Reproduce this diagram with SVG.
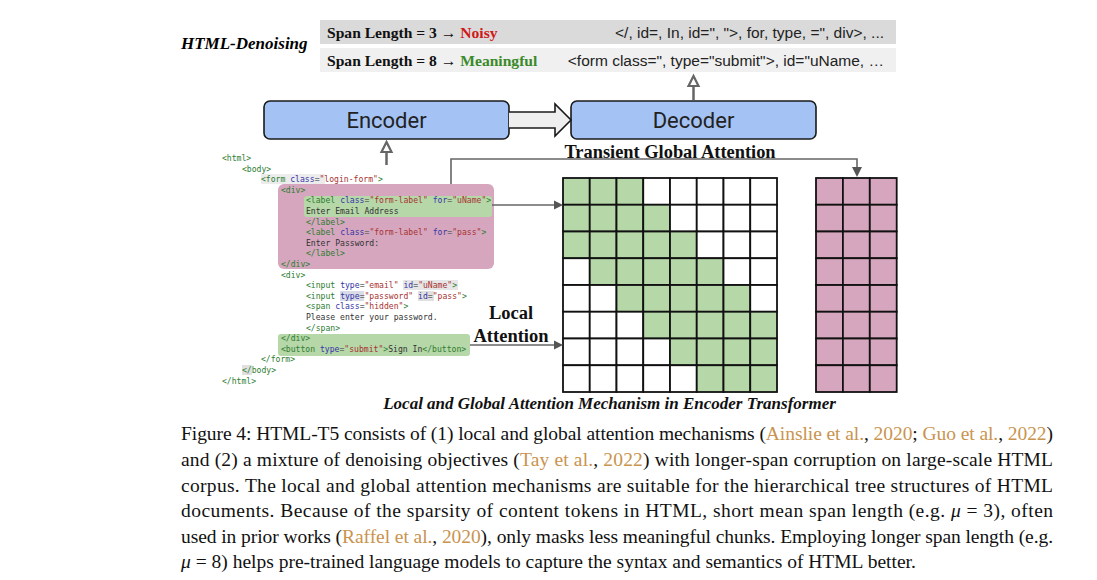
<svg xmlns="http://www.w3.org/2000/svg" width="1097" height="580" viewBox="0 0 1097 580">
<style>
.serifb{font-family:"Liberation Serif","Times New Roman",serif;font-weight:bold}
.code{font-family:"DejaVu Sans Mono","Liberation Mono",monospace;font-size:8.1px}
.t{fill:#2e7d32}.a{fill:#3535a8}.v{fill:#a83232}.p{fill:#333333}.e{fill:#666666}
.cap{font-family:"Liberation Serif","Times New Roman",serif;font-size:19.5px;fill:#111}
.cite{fill:#c9944f}
.g{fill:#b6d7a8;stroke:#111;stroke-width:1.8}
.w{fill:#ffffff;stroke:#111;stroke-width:1.8}
.pk{fill:#d5a6bd;stroke:#111;stroke-width:1.8}
.conn{fill:none;stroke:#666;stroke-width:1.6}
.box{fill:#a4c2f4;stroke:#1a1a1a;stroke-width:1.6}
.boxt{font-family:Roboto,"Open Sans",sans-serif;font-size:22px;fill:#222;text-anchor:middle}
.tok{font-family:"Liberation Sans",Arial,sans-serif;font-size:15.5px;fill:#222;text-anchor:end}
</style>
<rect width="1097" height="580" fill="#ffffff"/>

<g id="denoising">
<text x="181" y="49" class="serifb" font-style="italic" font-size="17">HTML-Denoising</text>
<rect x="320" y="20" width="576" height="24" fill="#dadada"/>
<rect x="320" y="48" width="576" height="24" fill="#f0f0f0"/>
<text x="327" y="37.5" class="serifb" font-size="15.6" fill="#111">Span Length = 3 → <tspan fill="#d01818">Noisy</tspan></text>
<text x="327" y="65.5" class="serifb" font-size="15.6" fill="#111">Span Length = 8 → <tspan fill="#3a8a2a">Meaningful</tspan></text>
<text x="884" y="37.5" class="tok">&lt;/, id=, In, id=", "&gt;, for, type, =", div&gt;, ...</text>
<text x="884" y="65.5" class="tok">&lt;form class=", type="submit"&gt;, id="uName, …</text>
</g>

<g id="encoder">
<rect x="264" y="101" width="245" height="38" rx="6" class="box"/>
<text x="386.5" y="128" class="boxt">Encoder</text>
</g>
<g id="decoder">
<rect x="571" y="101" width="245" height="38" rx="6" class="box"/>
<text x="693.5" y="128" class="boxt">Decoder</text>
</g>

<g id="html-code">
<rect x="278" y="184" width="216" height="85" rx="6" fill="#d5a6bd"/>
<rect x="304" y="196" width="188" height="21" rx="3" fill="#b6d7a8"/>
<rect x="278" y="334" width="192" height="22" rx="3" fill="#b6d7a8"/>
<rect x="261" y="174" width="64" height="10" fill="#ececec"/>
<rect x="403" y="280" width="55" height="10" fill="#e6e6e6"/>
<rect x="340" y="291" width="24" height="10" fill="#d9dce6"/>
<rect x="418" y="291" width="16" height="10" fill="#e0e0e0"/>
<rect x="242" y="365" width="10" height="10" fill="#e0e0e0"/>
<g class="code">
<text x="222" y="161"><tspan class="t">&lt;html&gt;</tspan></text>
<text x="242" y="171.6"><tspan class="t">&lt;body&gt;</tspan></text>
<text x="261" y="182.2"><tspan class="t">&lt;form </tspan><tspan class="a">class</tspan><tspan class="e">=</tspan><tspan class="v">"login-form"</tspan><tspan class="t">&gt;</tspan></text>
<text x="281" y="192.8"><tspan class="t">&lt;div&gt;</tspan></text>
<text x="306" y="203.4"><tspan class="t">&lt;label </tspan><tspan class="a">class</tspan><tspan class="e">=</tspan><tspan class="v">"form-label"</tspan><tspan class="a"> for</tspan><tspan class="e">=</tspan><tspan class="v">"uName"</tspan><tspan class="t">&gt;</tspan></text>
<text x="306" y="214" class="p">Enter Email Address</text>
<text x="306" y="224.6"><tspan class="t">&lt;/label&gt;</tspan></text>
<text x="306" y="235.2"><tspan class="t">&lt;label </tspan><tspan class="a">class</tspan><tspan class="e">=</tspan><tspan class="v">"form-label"</tspan><tspan class="a"> for</tspan><tspan class="e">=</tspan><tspan class="v">"pass"</tspan><tspan class="t">&gt;</tspan></text>
<text x="306" y="245.8" class="p">Enter Password:</text>
<text x="306" y="256.4"><tspan class="t">&lt;/label&gt;</tspan></text>
<text x="281" y="267"><tspan class="t">&lt;/div&gt;</tspan></text>
<text x="281" y="277.6"><tspan class="t">&lt;div&gt;</tspan></text>
<text x="306" y="288.2"><tspan class="t">&lt;input </tspan><tspan class="a">type</tspan><tspan class="e">=</tspan><tspan class="v">"email"</tspan><tspan class="a"> id</tspan><tspan class="e">=</tspan><tspan class="v">"uName"</tspan><tspan class="t">&gt;</tspan></text>
<text x="306" y="298.8"><tspan class="t">&lt;input </tspan><tspan class="a">type</tspan><tspan class="e">=</tspan><tspan class="v">"password"</tspan><tspan class="a"> id</tspan><tspan class="e">=</tspan><tspan class="v">"pass"</tspan><tspan class="t">&gt;</tspan></text>
<text x="306" y="309.4"><tspan class="t">&lt;span </tspan><tspan class="a">class</tspan><tspan class="e">=</tspan><tspan class="v">"hidden"</tspan><tspan class="t">&gt;</tspan></text>
<text x="306" y="320" class="p">Please enter your password.</text>
<text x="306" y="330.6"><tspan class="t">&lt;/span&gt;</tspan></text>
<text x="281" y="341.2"><tspan class="t">&lt;/div&gt;</tspan></text>
<text x="281" y="351.8"><tspan class="t">&lt;button </tspan><tspan class="a">type</tspan><tspan class="e">=</tspan><tspan class="v">"submit"</tspan><tspan class="t">&gt;</tspan><tspan class="p">Sign In</tspan><tspan class="t">&lt;/button&gt;</tspan></text>
<text x="261" y="362.4"><tspan class="t">&lt;/form&gt;</tspan></text>
<text x="242" y="373"><tspan class="t">&lt;/body&gt;</tspan></text>
<text x="222" y="383.6"><tspan class="t">&lt;/html&gt;</tspan></text>
</g>
</g>

<g id="local-grid">
<rect class="g" x="563" y="178" width="26.75" height="26.75"/><rect class="g" x="589.75" y="178" width="26.75" height="26.75"/><rect class="g" x="616.5" y="178" width="26.75" height="26.75"/><rect class="w" x="643.25" y="178" width="26.75" height="26.75"/><rect class="w" x="670" y="178" width="26.75" height="26.75"/><rect class="w" x="696.75" y="178" width="26.75" height="26.75"/><rect class="w" x="723.5" y="178" width="26.75" height="26.75"/><rect class="w" x="750.25" y="178" width="26.75" height="26.75"/>
<rect class="g" x="563" y="204.75" width="26.75" height="26.75"/><rect class="g" x="589.75" y="204.75" width="26.75" height="26.75"/><rect class="g" x="616.5" y="204.75" width="26.75" height="26.75"/><rect class="g" x="643.25" y="204.75" width="26.75" height="26.75"/><rect class="w" x="670" y="204.75" width="26.75" height="26.75"/><rect class="w" x="696.75" y="204.75" width="26.75" height="26.75"/><rect class="w" x="723.5" y="204.75" width="26.75" height="26.75"/><rect class="w" x="750.25" y="204.75" width="26.75" height="26.75"/>
<rect class="g" x="563" y="231.5" width="26.75" height="26.75"/><rect class="g" x="589.75" y="231.5" width="26.75" height="26.75"/><rect class="g" x="616.5" y="231.5" width="26.75" height="26.75"/><rect class="g" x="643.25" y="231.5" width="26.75" height="26.75"/><rect class="g" x="670" y="231.5" width="26.75" height="26.75"/><rect class="w" x="696.75" y="231.5" width="26.75" height="26.75"/><rect class="w" x="723.5" y="231.5" width="26.75" height="26.75"/><rect class="w" x="750.25" y="231.5" width="26.75" height="26.75"/>
<rect class="w" x="563" y="258.25" width="26.75" height="26.75"/><rect class="g" x="589.75" y="258.25" width="26.75" height="26.75"/><rect class="g" x="616.5" y="258.25" width="26.75" height="26.75"/><rect class="g" x="643.25" y="258.25" width="26.75" height="26.75"/><rect class="g" x="670" y="258.25" width="26.75" height="26.75"/><rect class="g" x="696.75" y="258.25" width="26.75" height="26.75"/><rect class="w" x="723.5" y="258.25" width="26.75" height="26.75"/><rect class="w" x="750.25" y="258.25" width="26.75" height="26.75"/>
<rect class="w" x="563" y="285" width="26.75" height="26.75"/><rect class="w" x="589.75" y="285" width="26.75" height="26.75"/><rect class="g" x="616.5" y="285" width="26.75" height="26.75"/><rect class="g" x="643.25" y="285" width="26.75" height="26.75"/><rect class="g" x="670" y="285" width="26.75" height="26.75"/><rect class="g" x="696.75" y="285" width="26.75" height="26.75"/><rect class="g" x="723.5" y="285" width="26.75" height="26.75"/><rect class="w" x="750.25" y="285" width="26.75" height="26.75"/>
<rect class="w" x="563" y="311.75" width="26.75" height="26.75"/><rect class="w" x="589.75" y="311.75" width="26.75" height="26.75"/><rect class="w" x="616.5" y="311.75" width="26.75" height="26.75"/><rect class="g" x="643.25" y="311.75" width="26.75" height="26.75"/><rect class="g" x="670" y="311.75" width="26.75" height="26.75"/><rect class="g" x="696.75" y="311.75" width="26.75" height="26.75"/><rect class="g" x="723.5" y="311.75" width="26.75" height="26.75"/><rect class="g" x="750.25" y="311.75" width="26.75" height="26.75"/>
<rect class="w" x="563" y="338.5" width="26.75" height="26.75"/><rect class="w" x="589.75" y="338.5" width="26.75" height="26.75"/><rect class="w" x="616.5" y="338.5" width="26.75" height="26.75"/><rect class="w" x="643.25" y="338.5" width="26.75" height="26.75"/><rect class="g" x="670" y="338.5" width="26.75" height="26.75"/><rect class="g" x="696.75" y="338.5" width="26.75" height="26.75"/><rect class="g" x="723.5" y="338.5" width="26.75" height="26.75"/><rect class="g" x="750.25" y="338.5" width="26.75" height="26.75"/>
<rect class="w" x="563" y="365.25" width="26.75" height="26.75"/><rect class="w" x="589.75" y="365.25" width="26.75" height="26.75"/><rect class="w" x="616.5" y="365.25" width="26.75" height="26.75"/><rect class="w" x="643.25" y="365.25" width="26.75" height="26.75"/><rect class="w" x="670" y="365.25" width="26.75" height="26.75"/><rect class="g" x="696.75" y="365.25" width="26.75" height="26.75"/><rect class="g" x="723.5" y="365.25" width="26.75" height="26.75"/><rect class="g" x="750.25" y="365.25" width="26.75" height="26.75"/>
</g>

<g id="global-grid">
<rect class="pk" x="816" y="178" width="26.9" height="26.75"/><rect class="pk" x="842.9" y="178" width="26.9" height="26.75"/><rect class="pk" x="869.8" y="178" width="26.9" height="26.75"/>
<rect class="pk" x="816" y="204.75" width="26.9" height="26.75"/><rect class="pk" x="842.9" y="204.75" width="26.9" height="26.75"/><rect class="pk" x="869.8" y="204.75" width="26.9" height="26.75"/>
<rect class="pk" x="816" y="231.5" width="26.9" height="26.75"/><rect class="pk" x="842.9" y="231.5" width="26.9" height="26.75"/><rect class="pk" x="869.8" y="231.5" width="26.9" height="26.75"/>
<rect class="pk" x="816" y="258.25" width="26.9" height="26.75"/><rect class="pk" x="842.9" y="258.25" width="26.9" height="26.75"/><rect class="pk" x="869.8" y="258.25" width="26.9" height="26.75"/>
<rect class="pk" x="816" y="285" width="26.9" height="26.75"/><rect class="pk" x="842.9" y="285" width="26.9" height="26.75"/><rect class="pk" x="869.8" y="285" width="26.9" height="26.75"/>
<rect class="pk" x="816" y="311.75" width="26.9" height="26.75"/><rect class="pk" x="842.9" y="311.75" width="26.9" height="26.75"/><rect class="pk" x="869.8" y="311.75" width="26.9" height="26.75"/>
<rect class="pk" x="816" y="338.5" width="26.9" height="26.75"/><rect class="pk" x="842.9" y="338.5" width="26.9" height="26.75"/><rect class="pk" x="869.8" y="338.5" width="26.9" height="26.75"/>
<rect class="pk" x="816" y="365.25" width="26.9" height="26.75"/><rect class="pk" x="842.9" y="365.25" width="26.9" height="26.75"/><rect class="pk" x="869.8" y="365.25" width="26.9" height="26.75"/>
</g>

<g id="connectors">
<path d="M509,112 H555 V104 L571,120 L555,136 V128 H509" fill="#eeeeee" stroke="#1a1a1a" stroke-width="1.6" stroke-linejoin="miter"/>
<line x1="386.5" y1="165" x2="386.5" y2="150" stroke="#666" stroke-width="2.5"/>
<path d="M386.5,142 L381.5,152 L391.5,152 z" fill="#fff" stroke="#666" stroke-width="2.2" stroke-linejoin="miter"/>
<line x1="693.5" y1="100" x2="693.5" y2="84" stroke="#666" stroke-width="2.5"/>
<path d="M693.5,76 L688.5,86 L698.5,86 z" fill="#fff" stroke="#666" stroke-width="2.2" stroke-linejoin="miter"/>
<path d="M451,184 V159 H857 V170" class="conn"/>
<path d="M852,167 L862,167 L857,177 z" fill="#555"/>
<path d="M492,205 H556" class="conn"/>
<path d="M554,200.5 L563,205 L554,209.5 z" fill="#555"/>
<path d="M470,345 H556" class="conn"/>
<path d="M554,340.5 L563,345 L554,349.5 z" fill="#555"/>
</g>

<g id="labels">
<text x="670" y="158" class="serifb" font-size="18.4" fill="#111" text-anchor="middle">Transient Global Attention</text>
<text x="511" y="319" class="serifb" font-size="18.5" fill="#111" text-anchor="middle">Local</text>
<text x="511" y="342" class="serifb" font-size="18.5" fill="#111" text-anchor="middle">Attention</text>
<text x="609.5" y="409" class="serifb" font-style="italic" font-size="17" fill="#111" text-anchor="middle">Local and Global Attention Mechanism in Encoder Transformer</text>
</g>

<g id="caption" class="cap">
<text x="181" y="440" textLength="872" lengthAdjust="spacing">Figure 4: HTML-T5 consists of (1) local and global attention mechanisms (<tspan class="cite">Ainslie et al.</tspan>, <tspan class="cite">2020</tspan>; <tspan class="cite">Guo et al.</tspan>, <tspan class="cite">2022</tspan>)</text>
<text x="181" y="466" textLength="872" lengthAdjust="spacing">and (2) a mixture of denoising objectives (<tspan class="cite">Tay et al.</tspan>, <tspan class="cite">2022</tspan>) with longer-span corruption on large-scale HTML</text>
<text x="181" y="491.5" textLength="872" lengthAdjust="spacing">corpus. The local and global attention mechanisms are suitable for the hierarchical tree structures of HTML</text>
<text x="181" y="517" textLength="872" lengthAdjust="spacing">documents. Because of the sparsity of content tokens in HTML, short mean span length (e.g. <tspan font-style="italic">μ</tspan> = 3), often</text>
<text x="181" y="543" textLength="872" lengthAdjust="spacing">used in prior works (<tspan class="cite">Raffel et al.</tspan>, <tspan class="cite">2020</tspan>), only masks less meaningful chunks. Employing longer span length (e.g.</text>
<text x="181" y="568"><tspan font-style="italic">μ</tspan> = 8) helps pre-trained language models to capture the syntax and semantics of HTML better.</text>
</g>
</svg>
